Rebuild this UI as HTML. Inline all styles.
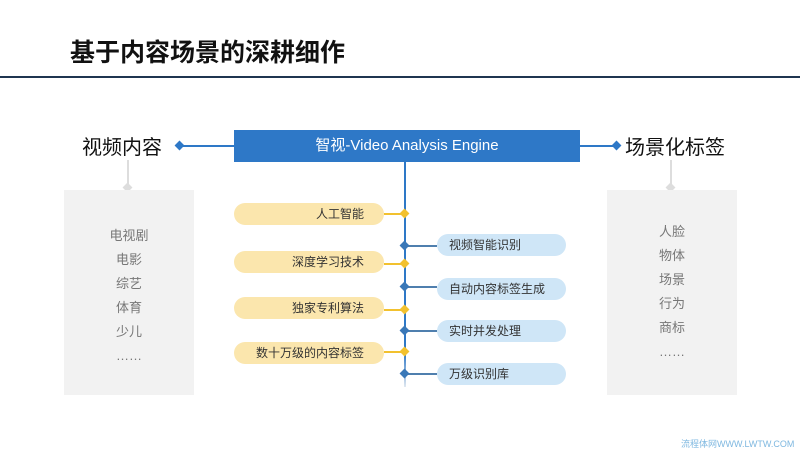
<!DOCTYPE html><html><head><meta charset="utf-8"><style>
body{margin:0;width:800px;height:450px;background:#fff;position:relative;overflow:hidden;font-family:"Liberation Sans","Noto Sans CJK SC",sans-serif}
.a{position:absolute}
.lp{position:absolute;left:234px;width:150px;height:22px;background:#fbe6ad;border-radius:11px;text-align:right;box-sizing:border-box;padding-right:20px;font-size:12px;line-height:22px;color:#333}
.rp{position:absolute;left:437px;width:129px;height:22px;background:#cfe6f7;border-radius:11px;box-sizing:border-box;padding-left:12px;font-size:12px;line-height:22px;color:#333}
.yl{position:absolute;left:384px;width:21px;height:2px;background:#f2c12e}
.bl{position:absolute;left:405px;width:32px;height:2px;background:#4f7fae}
.d{position:absolute;width:7px;height:7px;transform:rotate(45deg)}
.g{position:absolute;top:190px;width:130px;height:205px;background:#f2f2f2;text-align:center;font-size:13px;color:#777;line-height:24px;box-sizing:border-box;padding-top:32px}
</style></head><body>
<div class="a" style="left:70px;top:33px;font-size:25px;font-weight:bold;color:#111;white-space:nowrap">基于内容场景的深耕细作</div>
<div class="a" style="left:0;top:76px;width:800px;height:2px;background:#1f3550"></div>
<div class="a" style="left:234px;top:130px;width:346px;height:32px;background:#2e78c7;color:#fff;font-size:15px;line-height:32px;text-align:center">智视-Video Analysis Engine</div>
<div class="a" style="left:82px;top:131px;font-size:20px;color:#111">视频内容</div>
<div class="a" style="left:625px;top:131px;font-size:20px;color:#111">场景化标签</div>
<div class="a" style="left:179px;top:145px;width:55px;height:2px;background:#2e78c7"></div>
<div class="d" style="left:176px;top:142px;background:#2e78c7"></div>
<div class="a" style="left:580px;top:145px;width:36px;height:2px;background:#2e78c7"></div>
<div class="d" style="left:613px;top:142px;background:#2e78c7"></div>
<div class="a" style="left:404px;top:162px;width:2px;height:225px;background:linear-gradient(#2e78c7 85%,#e0e8f0)"></div>
<div class="a" style="left:127px;top:160px;width:2px;height:28px;background:#ddd"></div>
<div class="d" style="left:124px;top:184px;background:#ddd"></div>
<div class="a" style="left:670px;top:160px;width:2px;height:28px;background:#ddd"></div>
<div class="d" style="left:667px;top:184px;background:#ddd"></div>
<div class="g" style="left:64px;padding-top:34px">电视剧<br>电影<br>综艺<br>体育<br>少儿<br>……</div>
<div class="g" style="left:607px;padding-top:30px">人脸<br>物体<br>场景<br>行为<br>商标<br>……</div>
<div class="lp" style="top:203px">人工智能</div><div class="yl" style="top:213px"></div><div class="d" style="left:401px;top:210px;background:#f2c12e"></div>
<div class="lp" style="top:251px">深度学习技术</div><div class="yl" style="top:263px"></div><div class="d" style="left:401px;top:260px;background:#f2c12e"></div>
<div class="lp" style="top:297px">独家专利算法</div><div class="yl" style="top:309px"></div><div class="d" style="left:401px;top:306px;background:#f2c12e"></div>
<div class="lp" style="top:342px">数十万级的内容标签</div><div class="yl" style="top:351px"></div><div class="d" style="left:401px;top:348px;background:#f2c12e"></div>
<div class="rp" style="top:234px">视频智能识别</div><div class="bl" style="top:245px"></div><div class="d" style="left:401px;top:242px;background:#3a78b8"></div>
<div class="rp" style="top:278px">自动内容标签生成</div><div class="bl" style="top:286px"></div><div class="d" style="left:401px;top:283px;background:#3a78b8"></div>
<div class="rp" style="top:320px">实时并发处理</div><div class="bl" style="top:330px"></div><div class="d" style="left:401px;top:327px;background:#3a78b8"></div>
<div class="rp" style="top:363px">万级识别库</div><div class="bl" style="top:373px"></div><div class="d" style="left:401px;top:370px;background:#3a78b8"></div>
<div class="a" style="left:681px;top:437px;font-size:9px;color:#7fb8e0;white-space:nowrap">流程体网WWW.LWTW.COM</div>
</body></html>
